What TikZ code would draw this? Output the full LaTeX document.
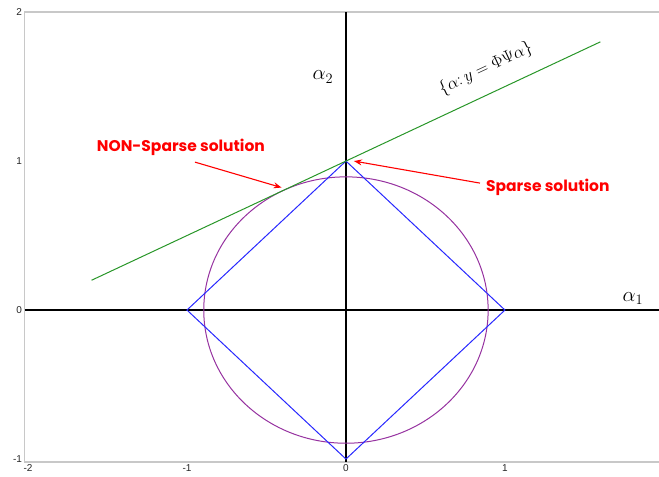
\documentclass[tikz,border=0pt]{standalone}
\usepackage{fontspec}
\usetikzlibrary{arrows.meta}
\newfontfamily\labfont{Poppins}
\newfontfamily\tickfont{Liberation Sans}
\definecolor{framegray}{RGB}{200,200,200}
\definecolor{linegreen}{RGB}{40,150,40}
\definecolor{diamblue}{RGB}{40,40,255}
\definecolor{circpurple}{RGB}{150,50,160}
\tikzset{
  frameline/.style={draw=framegray, line width=1.2pt},
  axisline/.style={draw=black, line width=2.2pt},
  ticklab/.style={font=\tickfont\fontsize{10}{12}\selectfont, text=black!85, inner sep=1pt},
  redlab/.style={font=\labfont\bfseries\fontsize{15.5}{18}\selectfont, text=red, inner sep=1pt},
  redarrow/.style={draw=red, line width=1.1pt, -{Stealth[length=8pt,width=6pt]}},
  axlab/.style={font=\fontsize{21}{25}\selectfont, inner sep=0pt},
}
\begin{document}
\begin{tikzpicture}[x=159pt,y=149pt]
\useasboundingbox (-2.176,-1.114) rectangle (1.969,2.081);
% frame
\draw[frameline] (1.969,2.0) -- (-2.02,2.0) -- (-2.02,-1.02) -- (1.969,-1.02);
% tick labels
\node[ticklab, anchor=east] (y2) at (-2.03,2.0) {2};
\node[ticklab, anchor=east] (y1) at (-2.03,1.0) {1};
\node[ticklab, anchor=east] (y0) at (-2.03,0.0) {0};
\node[ticklab, anchor=east] (ym1) at (-2.03,-1.0) {-1};
\node[ticklab, anchor=north] (xm2) at (-2.0,-1.03) {-2};
\node[ticklab, anchor=north] (xm1) at (-1.0,-1.03) {-1};
\node[ticklab, anchor=north] (x0) at (0.0,-1.03) {0};
\node[ticklab, anchor=north] (x1) at (1.0,-1.03) {1};
% axes
\draw[axisline] (-2.02,0) -- (1.969,0);
\draw[axisline] (0,2.0) -- (0,-1.02);
% circle (l2 ball)
\draw[circpurple, line width=1pt] (0,0) ellipse [x radius=142.2pt, y radius=133.2pt];
% diamond (l1 ball)
\draw[diamblue, line width=1pt] (1,0) -- (0,1) -- (-1,0) -- (0,-1) -- cycle;
% constraint line
\coordinate (gl) at (-1.6,0.2);
\coordinate (gr) at (1.6,1.8);
\draw[linegreen, line width=1pt] (gl) -- (gr);
\node[font=\fontsize{18}{22}\selectfont, rotate=25.1] (set) at (0.88,1.62) {$\{\alpha\colon y=\Phi\Psi\alpha\}$};
% axis labels
\node[axlab] (a2) at (-0.145,1.564) {$\alpha_2$};
\node[axlab] (a1) at (1.805,0.075) {$\alpha_1$};
% annotations
\node[redlab] (ns) at (-1.038,1.094) {NON-Sparse solution};
\node[redlab] (sp) at (1.27,0.826) {Sparse solution};
\coordinate (nsp) at (-0.405,0.822);
\coordinate (spp) at (0.05,1.0);
\draw[redarrow] (-0.95,0.993) -- (nsp);
\draw[redarrow] (0.843,0.852) -- (spp);
\end{tikzpicture}
\end{document}
